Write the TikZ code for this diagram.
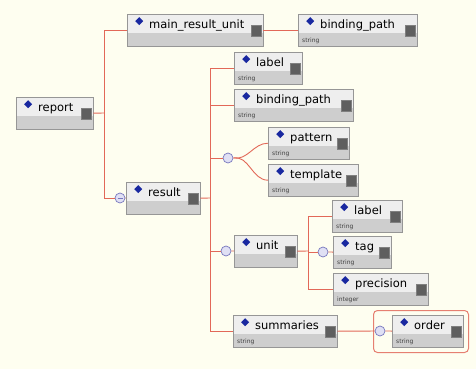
\documentclass[tikz,border=0pt]{standalone}
\usepackage{fontspec}
\usepackage{tikz}
\usetikzlibrary{shapes,arrows}
\newfontfamily\elemfam{DejaVu Sans}
\newcommand{\elemfont}{\elemfam\fontsize{11.5}{13}\selectfont}
\newcommand{\typefont}{\elemfam\fontsize{6}{7}\selectfont}
\definecolor{bgcol}{RGB}{254,254,240}
\definecolor{boxline}{RGB}{150,150,150}
\definecolor{boxtop}{RGB}{238,238,238}
\definecolor{boxbot}{RGB}{206,206,206}
\definecolor{diamcol}{RGB}{25,40,160}
\definecolor{icongray}{RGB}{95,95,95}
\definecolor{linecol}{RGB}{226,104,88}
\definecolor{circline}{RGB}{120,120,190}
\definecolor{circfill}{RGB}{224,224,244}
\tikzstyle{elem} = [rectangle, draw=boxline, fill=boxbot, inner sep=0pt,
    anchor=north west, align=left, text height=14pt, text depth=18pt, font=\elemfont,
    path picture={
      \fill[boxtop] (path picture bounding box.north west)
        rectangle ([yshift=-19pt]path picture bounding box.north east);
      \fill[diamcol] ([xshift=12pt,yshift=-3pt]path picture bounding box.north west)
        -- ++(4pt,-4pt) -- ++(-4pt,-4pt) -- ++(-4pt,4pt) -- cycle;
      \filldraw[fill=icongray, draw=gray] ([xshift=-12pt,yshift=-11pt]path picture bounding box.north east)
        rectangle ([xshift=-2pt,yshift=-22pt]path picture bounding box.north east);
    }]
\tikzstyle{typetext} = [font=\typefont, text=black!75, inner sep=0pt, anchor=base west]
\tikzstyle{compositor} = [circle, draw=circline, fill=circfill, minimum size=10pt,
    inner sep=0pt, line width=0.7pt]
\tikzstyle{link} = [draw=linecol, line width=0.9pt]
\tikzstyle{selected} = [rectangle, draw=linecol!85, rounded corners=4pt, line width=1pt,
    anchor=north west, fill=bgcol]

% element box: id, x, y, width, name, type
\newcommand{\xmlelem}[6]{%
  \node[elem, minimum width=#4pt, text width=#4pt] (#1) at (#2,#3) {\hspace*{22pt}#5};
  \if\relax\detokenize{#6}\relax\else
  \node[typetext] (#1-type) at ([xshift=4pt,yshift=4pt]#1.south west) {#6};
  \fi}

\begin{document}
\begin{tikzpicture}[x=1pt, y=-1pt]
    \useasboundingbox (0,0) rectangle (476,369);
    \fill[bgcol] (0,0) rectangle (476,369);

    % Place nodes
    % Elements
    \xmlelem{report}{16}{97}{77}{report}{}
    \xmlelem{mru}{127}{14}{136}{main\_result\_unit}{}
    \xmlelem{bp1}{298}{14}{119}{binding\_path}{string}
    \xmlelem{result}{126}{182}{74}{result}{}
    \xmlelem{label}{234}{52}{68}{label}{string}
    \xmlelem{bp2}{234}{89}{119}{binding\_path}{string}
    \xmlelem{pattern}{268}{127}{81}{pattern}{string}
    \xmlelem{template}{268}{164}{90}{template}{string}
    \xmlelem{unit}{234}{235}{63}{unit}{}
    \xmlelem{ulabel}{332}{200}{70}{label}{string}
    \xmlelem{tag}{333}{236}{58}{tag}{string}
    \xmlelem{precision}{333}{273}{95}{precision}{integer}
    \xmlelem{summaries}{233}{315}{104}{summaries}{string}
    \node[selected, minimum width=95pt, minimum height=42pt] (orderframe) at (373,310) {};
    \xmlelem{order}{392}{315}{71}{order}{string}

    % Compositors
    \node[compositor] (seq1) at (120,198) {};
    \node[compositor] (choice1) at (228,158) {};
    \node[compositor] (choice2) at (226,251) {};
    \node[compositor] (choice3) at (323,252) {};
    \node[compositor] (choice4) at (380,331) {};
    \draw[circline, line width=0.6pt] ([xshift=-2.5pt]seq1.center) -- ([xshift=2.5pt]seq1.center);

    % Draw edges
    \coordinate (rep-j) at (104,113);
    \coordinate (res-j) at (210,198);
    \coordinate (unit-j) at (308,251);
    \draw[link] (report.east) -- (rep-j);
    \draw[link] (mru.west) -| (rep-j);
    \draw[link] (seq1.west) -| (rep-j);
    \draw[link] (seq1) -- (result);
    \draw[link] (mru) -- (bp1);
    \draw[link] (result.east) -- (res-j);
    \draw[link] (label.west) -| (res-j);
    \draw[link] (bp2.west) -| (res-j);
    \draw[link] (choice1.west) -| (res-j);
    \draw[link] (choice2.west) -| (res-j);
    \draw[link] (summaries.west) -| (res-j);
    % Choice
    \draw[link] (choice1.east) to[out=-10,in=180] (pattern.west);
    \draw[link] (choice1.east) to[out=10,in=180] (template.west);
    \draw[link] (choice2) -- (unit);
    \draw[link] (unit.east) -- (unit-j);
    \draw[link] (ulabel.west) -| (unit-j);
    \draw[link] (choice3.west) -| (unit-j);
    \draw[link] (choice3) -- (tag);
    \draw[link] (precision.west) -| (unit-j);
    \draw[link] (summaries.east) -- (choice4);
    \draw[link] (choice4) -- (order);

\end{tikzpicture}
\end{document}
